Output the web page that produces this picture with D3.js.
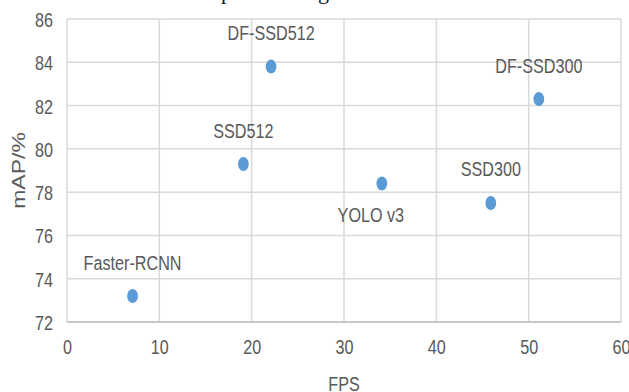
<!DOCTYPE html>
<html><head><meta charset="utf-8">
<script src="https://cdn.jsdelivr.net/npm/d3@7"></script>
<style>html,body{margin:0;padding:0;background:#fff;}svg{display:block;}</style>
</head><body>
<svg id="chart" width="629" height="392"></svg>
<script>
const models = ["Faster-RCNN","SSD512","DF-SSD512","YOLO v3","SSD300","DF-SSD300"];
const fps = [7.1, 19.1, 22.1, 34.1, 45.9, 51.1];
const mAP = [73.2, 79.3, 83.8, 78.4, 77.5, 82.3];
const labelPlace = ["above","above","above","below-left","above","above"];
const xTicks = [0,10,20,30,40,50,60];
const yTicks = [72,74,76,78,80,82,84,86];

const svg = d3.select("#chart");
const W = 629, H = 392;
const m = {left:67, right:W-621, top:19, bottom:H-322};
const SX = 0.77; // horizontal squeeze of the text
const x = d3.scaleLinear().domain([0,60]).range([m.left, W-m.right]);
const y = d3.scaleLinear().domain([72,86]).range([H-m.bottom, m.top]);
const textCol = "#595959";
const font = "'Liberation Sans', Arial, sans-serif";

// caption fragments cut off at the top
svg.append("g").selectAll("text").data(["p","g"]).join("text")
  .attr("x",(d,i)=> i===0 ? 221 : 318).attr("y",-1)
  .attr("font-family","'Liberation Serif', serif").attr("font-size",22).attr("fill","#111")
  .text(d=>d);

// grid
const grid = svg.append("g");
grid.selectAll("line.h").data(yTicks).join("line").attr("class","h")
  .attr("x1",x(0)).attr("x2",x(60)).attr("y1",d=>y(d)).attr("y2",d=>y(d))
  .attr("stroke","#d9d9d9").attr("stroke-width",1.5);
grid.selectAll("line.v").data(xTicks).join("line").attr("class","v")
  .attr("y1",y(72)).attr("y2",y(86)).attr("x1",d=>x(d)).attr("x2",d=>x(d))
  .attr("stroke","#d9d9d9").attr("stroke-width",1.5);
// bottom axis line
svg.append("line").attr("x1",x(0)).attr("x2",x(60)).attr("y1",y(72)).attr("y2",y(72))
  .attr("stroke","#bfbfbf").attr("stroke-width",1.5);

// axes via d3 (labels only)
const xAxis = svg.append("g").attr("transform",`translate(0,${y(72)})`)
  .call(d3.axisBottom(x).tickValues(xTicks).tickSize(0).tickPadding(0));
xAxis.select(".domain").remove();
xAxis.selectAll(".tick text").attr("y",0).attr("dy",0)
  .attr("transform","translate(0,32) scale("+SX+",1)")
  .attr("font-family",font).attr("font-size",21).attr("fill",textCol).attr("text-anchor","middle");

const yAxis = svg.append("g").attr("transform",`translate(${x(0)},0)`)
  .call(d3.axisLeft(y).tickValues(yTicks).tickSize(0).tickPadding(0));
yAxis.select(".domain").remove();
yAxis.selectAll(".tick text").attr("x",0).attr("dy",0)
  .attr("transform","translate(-14,7.5) scale("+SX+",1)")
  .attr("font-family",font).attr("font-size",21).attr("fill",textCol).attr("text-anchor","end");

// axis titles
svg.append("text").attr("transform",`translate(${(x(0)+x(60))/2},391) scale(${SX},1)`)
  .attr("text-anchor","middle").attr("font-family",font).attr("font-size",21).attr("fill",textCol)
  .text("FPS");
svg.append("text").attr("transform",`translate(25,${(y(72)+y(86))/2}) scale(${SX},1) rotate(-90)`)
  .attr("text-anchor","middle").attr("font-family",font).attr("font-size",23).attr("fill",textCol)
  .text("mAP/%");

// points
const data = models.map((n,i)=>({name:n, fps:fps[i], map:mAP[i], place:labelPlace[i]}));
svg.append("g").selectAll("ellipse").data(data).join("ellipse")
  .attr("cx",d=>x(d.fps)).attr("cy",d=>y(d.map)).attr("rx",5.4).attr("ry",7)
  .attr("fill","#5b9bd5");

// data labels
svg.append("g").selectAll("text").data(data).join("text")
  .attr("transform",d=>{
    const dx = d.place==="below-left" ? -11 : 0;
    const dy = d.place==="below-left" ? 31 : -34;
    return `translate(${x(d.fps)+dx},${y(d.map)+dy+7.5}) scale(${SX},1)`;
  })
  .attr("text-anchor","middle").attr("font-family",font).attr("font-size",21).attr("fill",textCol)
  .text(d=>d.name);
</script>
</body></html>
